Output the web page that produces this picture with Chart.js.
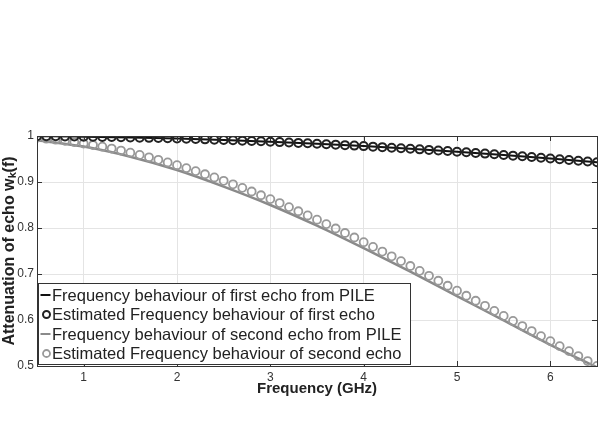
<!DOCTYPE html>
<html>
<head>
<meta charset="utf-8">
<script src="https://cdn.jsdelivr.net/npm/chart.js@4.4.0/dist/chart.umd.min.js"></script>
<style>
  html, body { margin:0; padding:0; background:#fff; }
  #wrap { width:603px; height:431px; position:relative; }
</style>
</head>
<body>
<div id="wrap"><canvas id="echoChart"></canvas></div>
<script>
// frequency grid of the estimated curves (GHz)
const freq = [0.5,0.6,0.7,0.8,0.9,1.0,1.1,1.2,1.3,1.4,1.5,1.6,1.7,1.8,1.9,2.0,2.1,2.2,2.3,2.4,2.5,2.6,2.7,2.8,2.9,3.0,
  3.1,3.2,3.3,3.4,3.5,3.6,3.7,3.8,3.9,4.0,4.1,4.2,4.3,4.4,4.5,4.6,4.7,4.8,4.9,5.0,5.1,5.2,5.3,5.4,5.5,5.6,5.7,5.8,5.9,6.0,
  6.1,6.2,6.3,6.4,6.5];
const estFirst = [0.9997,0.9995,0.9993,0.9991,0.9989,0.9986,0.9983,0.9980,0.9977,0.9973,0.9969,0.9964,0.9960,0.9955,0.9950,
  0.9945,0.9939,0.9933,0.9927,0.9920,0.9913,0.9906,0.9899,0.9892,0.9884,0.9876,0.9867,0.9859,0.9850,0.9841,0.9831,0.9822,
  0.9812,0.9801,0.9791,0.9780,0.9769,0.9758,0.9746,0.9735,0.9722,0.9710,0.9698,0.9685,0.9672,0.9658,0.9645,0.9631,0.9617,
  0.9603,0.9588,0.9573,0.9558,0.9543,0.9528,0.9512,0.9496,0.9480,0.9463,0.9447,0.9430];
const estSecond = [0.9959,0.9941,0.9920,0.9896,0.9868,0.9837,0.9804,0.9767,0.9727,0.9684,0.9638,0.9589,0.9537,0.9483,0.9425,
  0.9365,0.9302,0.9237,0.9169,0.9099,0.9026,0.8950,0.8873,0.8794,0.8712,0.8628,0.8542,0.8454,0.8364,0.8273,0.8180,0.8085,
  0.7989,0.7891,0.7793,0.7692,0.7590,0.7488,0.7384,0.7280,0.7174,0.7068,0.6961,0.6853,0.6745,0.6637,0.6527,0.6418,0.6309,
  0.6199,0.6089,0.5979,0.5869,0.5760,0.5650,0.5541,0.5432,0.5324,0.5216,0.5108,0.5001];

// PILE curves, coarser grid
const pileFreq = [0.5,1.0,1.5,2.0,2.5,3.0,3.5,4.0,4.5,5.0,5.5,6.0,6.5];
const pileFirst = [0.9997,0.9986,0.9969,0.9945,0.9913,0.9876,0.9831,0.9780,0.9722,0.9658,0.9588,0.9512,0.9430];
const pileSecond = [0.991,0.977,0.955,0.926,0.890,0.850,0.805,0.756,0.705,0.652,0.599,0.546,0.497];

const labels = [
  'Frequency behaviour of first echo from PILE',
  'Estimated Frequency behaviour of first echo',
  'Frequency behaviour of second echo from PILE',
  'Estimated Frequency behaviour of second echo'
];
const xTicks = [1,2,3,4,5,6];
const yTicks = [0.5,0.6,0.7,0.8,0.9,1];

const pts = (xs, ys) => xs.map((x, i) => ({ x, y: ys[i] }));
const FONT = '"Liberation Sans", Arial, Helvetica, sans-serif';

// box, inner ticks and in-axes legend, drawn MATLAB-style
const axesBox = {
  id:'axesBox',
  afterDatasetsDraw(chart){
    const { ctx, chartArea:a, scales } = chart;
    ctx.save();
    ctx.strokeStyle = '#333'; ctx.lineWidth = 1;
    ctx.beginPath();
    xTicks.forEach(t => {
      const px = Math.round(scales.x.getPixelForValue(t)) + 0.5;
      ctx.moveTo(px, a.bottom); ctx.lineTo(px, a.bottom - 5);
      ctx.moveTo(px, a.top); ctx.lineTo(px, a.top + 5);
    });
    yTicks.forEach(t => {
      const py = Math.round(scales.y.getPixelForValue(t)) + 0.5;
      ctx.moveTo(a.left, py); ctx.lineTo(a.left + 5, py);
      ctx.moveTo(a.right, py); ctx.lineTo(a.right - 5, py);
    });
    ctx.stroke();
    ctx.strokeRect(Math.round(a.left) + 0.5, Math.round(a.top) + 0.5,
                   Math.round(a.right - a.left), Math.round(a.bottom - a.top));

    // legend
    const bx = a.left + 1.5, by = a.bottom - 82.5, bw = 372, bh = 81;
    ctx.fillStyle = '#fff';
    ctx.fillRect(bx, by, bw, bh);
    ctx.strokeStyle = '#333';
    ctx.strokeRect(bx, by, bw, bh);
    ctx.font = '16.5px ' + FONT;
    ctx.textBaseline = 'middle';
    [0, 1, 2, 3].forEach((i, row) => {
      const ds = chart.data.datasets[i];
      const cy = by + 11.5 + row * 19.5;
      if (ds.showLine) {
        ctx.strokeStyle = ds.borderColor; ctx.lineWidth = 2;
        ctx.beginPath(); ctx.moveTo(bx + 2, cy); ctx.lineTo(bx + 12, cy); ctx.stroke();
      } else {
        ctx.strokeStyle = ds.pointBorderColor; ctx.lineWidth = ds.pointBorderWidth;
        ctx.beginPath(); ctx.arc(bx + 8, cy, 3.5, 0, Math.PI * 2); ctx.stroke();
      }
      ctx.fillStyle = '#222';
      ctx.fillText(labels[i], bx + 13.5, cy + 1);
    });
    ctx.restore();
  }
};

new Chart(document.getElementById('echoChart'), {
  type:'scatter',
  data:{
    datasets:[
      { label:labels[0], data:pts(pileFreq, pileFirst), showLine:true, borderColor:'#111', borderWidth:2,
        pointRadius:0, cubicInterpolationMode:'monotone', order:2 },
      { label:labels[1], data:pts(freq, estFirst), showLine:false, pointStyle:'circle', pointRadius:4,
        pointBorderWidth:2, pointBorderColor:'#222', pointBackgroundColor:'rgba(255,255,255,0)', order:0 },
      { label:labels[2], data:pts(pileFreq, pileSecond), showLine:true, borderColor:'#8a8a8a', borderWidth:2.5,
        pointRadius:0, cubicInterpolationMode:'monotone', order:3 },
      { label:labels[3], data:pts(freq, estSecond), showLine:false, pointStyle:'circle', pointRadius:4,
        pointBorderWidth:1.8, pointBorderColor:'#999', pointBackgroundColor:'rgba(255,255,255,0)', order:1 }
    ]
  },
  options:{
    responsive:true, maintainAspectRatio:false, animation:false,
    layout:{ padding:{ top:136, right:5, bottom:33, left:0 } },
    plugins:{ legend:{ display:false }, tooltip:{ enabled:false } },
    scales:{
      x:{
        type:'linear', min:0.5, max:6.5,
        afterBuildTicks: s => { s.ticks = xTicks.map(v => ({ value:v })); },
        afterFit: s => { s.height = 32; },
        grid:{ color:'#e4e4e4', drawTicks:false },
        border:{ display:false },
        ticks:{ color:'#333', font:{ family:FONT, size:12 }, padding:4 },
        title:{ display:true, text:'Frequency (GHz)', color:'#222',
                font:{ family:FONT, size:15, weight:'bold' }, padding:0 }
      },
      y:{
        min:0.5, max:1,
        afterBuildTicks: s => { s.ticks = yTicks.map(v => ({ value:v })); },
        afterFit: s => { s.width = 37; },
        grid:{ color:'#e4e4e4', drawTicks:false },
        border:{ display:false },
        ticks:{ color:'#333', font:{ family:FONT, size:12 }, padding:3,
                callback: v => v === 1 ? '1' : v.toFixed(1) },
        title:{ display:true, text:'Attenuation of echo wₖ(f)', color:'#222',
                font:{ family:FONT, size:16, weight:'bold' }, padding:0 }
      }
    }
  },
  plugins:[axesBox]
});
</script>
</body>
</html>
